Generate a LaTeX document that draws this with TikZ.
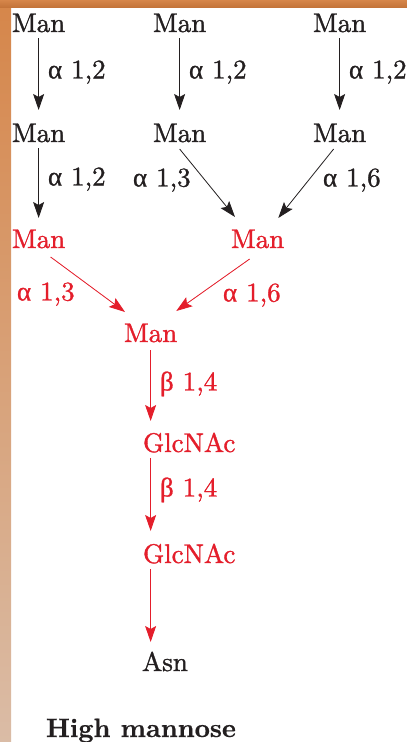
\documentclass[tikz,border=0pt]{standalone}
\usepackage{fontspec}
\newfontfamily\sugfont{lmroman10-regular.otf}[FakeBold=1.2]
\newfontfamily\sugbold{lmroman10-bold.otf}[FakeBold=0.6]
\newfontfamily\grkfont{Liberation Serif}[FakeBold=0.8]
\newcommand{\galpha}{{\grkfont α}}
\newcommand{\gbeta}{{\grkfont β}}
\usetikzlibrary{arrows.meta,calc}
\definecolor{ink}{RGB}{35,31,32}
\definecolor{rd}{RGB}{228,30,43}
\definecolor{bordtop}{RGB}{214,134,74}
\definecolor{borddark}{RGB}{196,116,58}
\definecolor{bordlow}{RGB}{218,188,166}
\begin{document}
\begin{tikzpicture}[x=1pt,y=-1pt,
  sug/.style={inner sep=0pt,outer sep=0pt,text height=18pt,text depth=0pt,
    anchor=base west,font=\fontsize{27}{30}\sugfont,text=ink},
  rsug/.style={sug,text=rd},
  lbl/.style={inner sep=0pt,outer sep=0pt,text height=17pt,text depth=0pt,
    anchor=west,font=\fontsize{27}{30}\sugfont,text=ink},
  rlbl/.style={lbl,text=rd},
  arr/.style={draw=ink,line width=0.8pt,-{Stealth[length=16pt,width=11pt,inset=3pt]}},
  rarr/.style={arr,draw=rd,fill=rd}
]
\useasboundingbox (0,0) rectangle (407,742);
\fill[white] (0,0) rectangle (407,742);
% frame strips
\shade[top color=bordtop,bottom color=bordlow] (0,0) rectangle (11,742);
\shade[top color=bordtop,bottom color=borddark] (0,0) rectangle (407,7);

% row 1
\node[sug] (m1a) at (12,32) {Man};
\node[sug] (m1b) at (153,32) {Man};
\node[sug] (m1c) at (313,32) {Man};
% row 2
\node[sug] (m2a) at (12,142) {Man};
\node[sug] (m2b) at (153,142) {Man};
\node[sug] (m2c) at (313,142) {Man};
% row 3 (red)
\node[rsug] (m3a) at (12,248) {Man};
\node[rsug] (m3b) at (231,248) {Man};
% core
\node[rsug] (m4) at (124,342) {Man};
\node[rsug] (g1) at (143,452) {GlcNAc};
\node[rsug] (g2) at (143,563) {GlcNAc};
\node[sug] (asn) at (142,671) {Asn};
\node[sug,font=\fontsize{26.5}{30}\sugbold] (title) at (46,737) {High mannose};

% labels
\node[lbl] (l1a) at (48,70) {\galpha\ 1,2};
\node[lbl] (l1b) at (189,70) {\galpha\ 1,2};
\node[lbl] (l1c) at (349,70) {\galpha\ 1,2};
\node[lbl] (l2a) at (48,177) {\galpha\ 1,2};
\node[lbl] (l2b) at (133,178) {\galpha\ 1,3};
\node[lbl] (l2c) at (323,178) {\galpha\ 1,6};
\node[rlbl] (l3a) at (17,292) {\galpha\ 1,3};
\node[rlbl] (l3b) at (223,293) {\galpha\ 1,6};
\node[rlbl] (l4) at (160,382) {\gbeta\ 1,4};
\node[rlbl] (l5) at (160,488) {\gbeta\ 1,4};

% black connectors
\draw[arr] ($(m1a.south)+(0,6)$) -- ($(m2a.north)+(0,-14)$);
\draw[arr] ($(m1b.south)+(0,6)$) -- ($(m2b.north)+(0,-14)$);
\draw[arr] ($(m1c.south)+(0,6)$) -- ($(m2c.north)+(0,-14)$);
\draw[arr] ($(m2a.south)+(0,6)$) -- ($(m3a.north)+(0,-12)$);
\draw[arr] ($(m2b.south)+(0,7)$) -- ($(m3b.north west)+(4,-13)$);
\draw[arr] ($(m2c.south)+(-6,7)$) -- ($(m3b.north east)+(-6,-12)$);

% red connectors
\draw[rarr] ($(m3a.south)+(12,9)$) -- ($(m4.north west)+(1,-12)$);
\draw[rarr] ($(m3b.south)+(-8,11)$) -- ($(m4.north east)+(-1,-13)$);
\draw[rarr] ($(m4.south)+(0,8)$) -- ($(m4.south |- g1.north)+(0,-13)$);
\draw[rarr] ($(m4.south |- g1.south)+(0,6)$) -- ($(m4.south |- g2.north)+(0,-14)$);
\draw[rarr] ($(m4.south |- g2.south)+(0,6)$) -- ($(m4.south |- asn.north)+(0,-11)$);
\end{tikzpicture}
\end{document}
